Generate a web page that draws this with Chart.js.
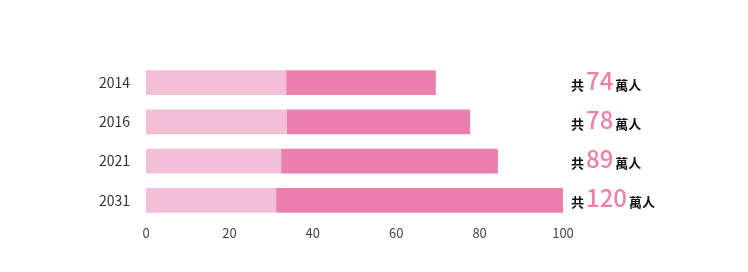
<!DOCTYPE html>
<html lang="zh-Hant">
<head>
<meta charset="utf-8">
<title>人數</title>
<script src="https://cdn.jsdelivr.net/npm/chart.js@4/dist/chart.umd.min.js"></script>
<style>
  html, body { margin: 0; padding: 0; background: #fff; }
  #wrap { width: 748px; height: 272px; position: relative; }
</style>
</head>
<body>
<div id="wrap"><canvas id="chart"></canvas></div>
<script>
// Data
const years = ['2014', '2016', '2021', '2031'];
const lightPart = [33.6, 33.8, 32.4, 31.2];
const darkPart = [35.9, 43.9, 52.0, 68.8];
const totals = [74, 78, 89, 120];
const xTicks = [0, 20, 40, 60, 80, 100];

const LIGHT = '#f3bfd6';
const DARK = '#ec7fae';
const FONT = "'Noto Sans CJK TC', 'Noto Sans', sans-serif";

// Draws "共 N 萬人" to the right of each bar row
const totalLabels = {
  id: 'totalLabels',
  afterDatasetsDraw(chart) {
    const ctx = chart.ctx;
    const x0 = chart.scales.x.getPixelForValue(100) + 8;
    ctx.save();
    ctx.textBaseline = 'alphabetic';
    ctx.textAlign = 'left';
    totals.forEach((t, i) => {
      const y = chart.scales.y.getPixelForValue(i) + 7;
      let x = x0;
      ctx.fillStyle = '#111';
      ctx.font = `bold 13px ${FONT}`;
      ctx.fillText('共', x, y);
      x += ctx.measureText('共').width + 2;
      ctx.fillStyle = DARK;
      ctx.font = `500 24px ${FONT}`;
      ctx.fillText(String(t), x, y);
      x += ctx.measureText(String(t)).width + 2;
      ctx.fillStyle = '#111';
      ctx.font = `bold 13px ${FONT}`;
      ctx.fillText('萬人', x, y);
    });
    ctx.restore();
  }
};

new Chart(document.getElementById('chart'), {
  type: 'bar',
  data: {
    labels: years,
    datasets: [
      { data: lightPart, backgroundColor: LIGHT, borderWidth: 0 },
      { data: darkPart, backgroundColor: DARK, borderWidth: 0 }
    ]
  },
  options: {
    indexAxis: 'y',
    responsive: true,
    maintainAspectRatio: false,
    animation: false,
    layout: { padding: { top: 63, right: 185, bottom: 22, left: 0 } },
    plugins: { legend: { display: false }, tooltip: { enabled: false } },
    datasets: { bar: { categoryPercentage: 1, barPercentage: 0.63 } },
    scales: {
      x: {
        stacked: true,
        min: 0,
        max: 100,
        afterBuildTicks: (s) => { s.ticks = xTicks.map(v => ({ value: v })); },
        afterFit: (s) => { s.height = 30; },
        grid: { display: false, drawTicks: false },
        border: { display: false },
        ticks: { padding: 5, color: '#444', font: { family: FONT, size: 13 } }
      },
      y: {
        stacked: true,
        afterFit: (s) => { s.width = 146; },
        grid: { display: false, drawTicks: false },
        border: { display: false },
        ticks: { padding: 16, color: '#333', font: { family: FONT, size: 14 } }
      }
    }
  },
  plugins: [totalLabels]
});
</script>
</body>
</html>
